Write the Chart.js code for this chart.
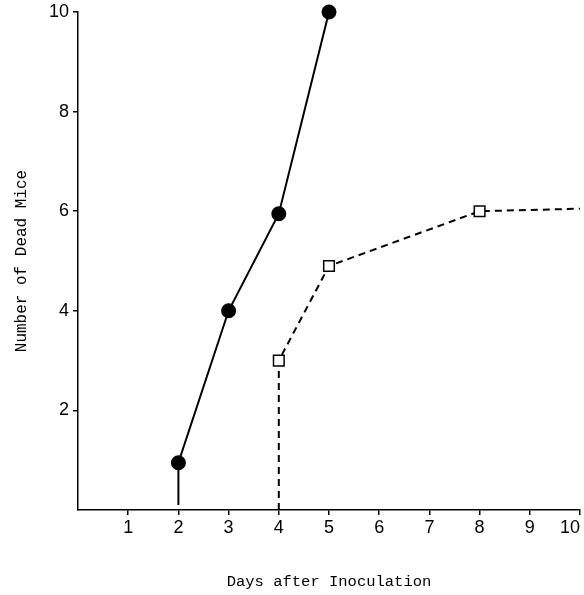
<!DOCTYPE html>
<html><head><meta charset="utf-8">
<script src="https://cdn.jsdelivr.net/npm/chart.js@4/dist/chart.umd.min.js"></script>
<style>html,body{margin:0;padding:0;background:#fff}#wrap{width:584px;height:595px}</style>
</head><body><div id="wrap"><canvas id="c" width="584" height="595"></canvas></div>
<script>
const xTicks = [1,2,3,4,5,6,7,8,9,10];
const yTicks = [2,4,6,8,10];
const daysA = [2, 2, 3, 4, 5];
const deadA = [0.1, 0.95, 4, 5.95, 10];
const daysB = [4, 4, 5, 8, 10];
const deadB = [0, 3, 4.9, 6, 6.05];

const ptsA = daysA.map((d,i)=>({x:d,y:deadA[i]}));
const ptsB = daysB.map((d,i)=>({x:d,y:deadB[i]}));
const tickFont = {family:"'Liberation Sans Narrow','Liberation Sans',sans-serif", size:18};
const monoFamily = "'Liberation Mono','DejaVu Sans Mono',monospace";

new Chart(document.getElementById('c'), {
  type:'scatter',
  data:{datasets:[
    {data:ptsA, showLine:true, borderColor:'#000', borderWidth:2, backgroundColor:'#000',
     pointRadius:[0,6.5,6.5,6.5,6.5], pointStyle:'circle', pointBorderColor:'#000', pointBackgroundColor:'#000', clip:false},
    {data:ptsB, showLine:true, borderColor:'#000', borderWidth:2, borderDash:[7,5],
     pointRadius:[0,7.5,7.5,7.5,0], pointStyle:'rect', pointBorderColor:'#000', pointBorderWidth:1.5,
     pointBackgroundColor:'#fff', clip:false}
  ]},
  options:{
    responsive:false, animation:false, devicePixelRatio:1,
    layout:{autoPadding:false, padding:{top:12,right:4,left:0,bottom:0}},
    plugins:{legend:{display:false}, tooltip:{enabled:false}},
    scales:{
      x:{type:'linear', min:0, max:10,
        afterBuildTicks:(s)=>{s.ticks = xTicks.map(v=>({value:v}));},
        afterFit:(s)=>{s.height = 85; s.paddingRight = 0; s.paddingLeft = 0;},
        border:{display:true,color:'#000',width:1.5},
        grid:{drawOnChartArea:false, drawTicks:true, tickLength:5, color:'#000', lineWidth:1.5},
        ticks:{color:'#000', font:tickFont, padding:2, maxRotation:0, autoSkip:false,
          callback:(v)=> v===10 ? '10\u2007\u2007' : String(v)},
        title:{display:true, text:'Days after Inoculation', color:'#000', font:{family:monoFamily,size:15.5}, padding:{top:20}}
      },
      y:{type:'linear', min:0, max:10,
        afterBuildTicks:(s)=>{s.ticks = yTicks.map(v=>({value:v}));},
        afterFit:(s)=>{s.width = 78; s.paddingTop = 0;},
        border:{display:true,color:'#000',width:1.5},
        grid:{drawOnChartArea:false, drawTicks:true, tickLength:5, color:'#000', lineWidth:1.5},
        ticks:{color:'#000', font:tickFont, padding:4},
        title:{display:true, text:'Number of Dead Mice', color:'#000', font:{family:monoFamily,size:16}, padding:{top:12,bottom:0}}
      }
    }
  }
});
</script></body></html>
